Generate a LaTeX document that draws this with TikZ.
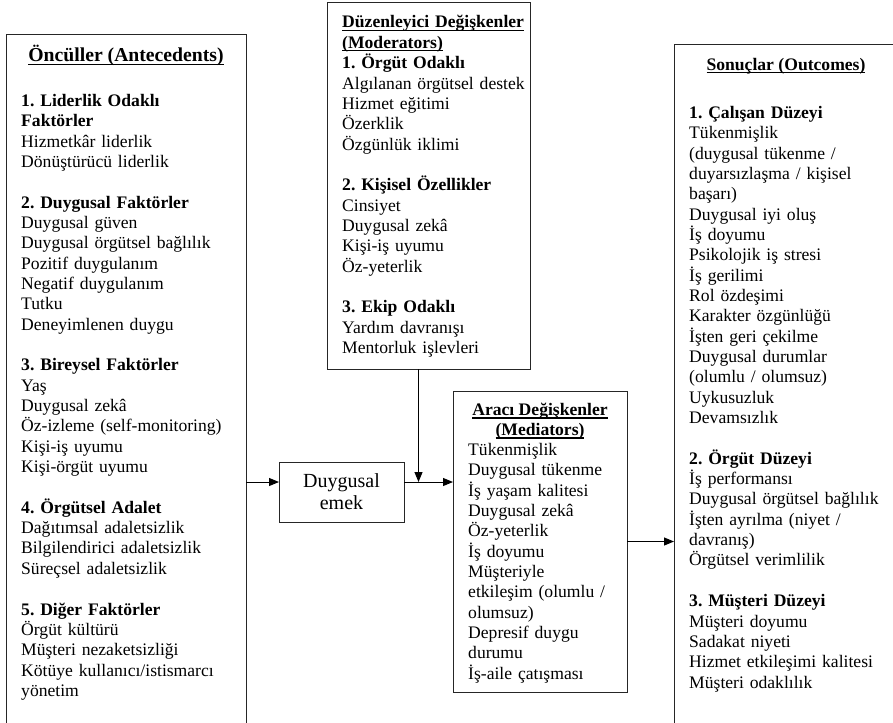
\documentclass[tikz,border=0pt]{standalone}
\usepackage{fontspec}
\setmainfont{Liberation Serif}
\usetikzlibrary{arrows.meta}

\newsavebox{\headbox}
\newcommand{\ulbold}[1]{\leavevmode\sbox{\headbox}{\textbf{#1}}%
    \rlap{\rule[-3pt]{\wd\headbox}{1.1pt}}\usebox{\headbox}}
\newcommand{\skipline}{20.34pt}
\frenchspacing

\begin{document}
\begin{tikzpicture}[x=1pt, y=-1pt,
            frame/.style={draw=black!85, line width=1pt, anchor=north west,
                inner sep=0pt, outer sep=0pt},
            heading/.style={anchor=base, inner sep=0pt,
                font=\fontsize{17.6}{20.34}\selectfont},
            entries/.style={anchor=base west, inner sep=0pt, text width=#1,
                align=left, font=\fontsize{17.6}{20.34}\selectfont},
            entries/.default=230pt,
            flow/.style={line width=1pt, -{Triangle[length=10pt,width=8pt]}}
        ]
        \useasboundingbox (0,0) rectangle (893,722);
        \clip (0,0) rectangle (893,722);

        % frames
        \node[frame, minimum width=240pt, minimum height=760pt] (ante) at (6,35) {};
        \node[frame, minimum width=203pt, minimum height=366pt] (mod) at (327,3) {};
        \node[frame, minimum width=125pt, minimum height=60pt, align=center,
            font=\fontsize{20}{22}\selectfont] (emek) at (279,462) {Duygusal\\emek};
        \node[frame, minimum width=174pt, minimum height=301pt] (med) at (453,391) {};
        \node[frame, minimum width=224pt, minimum height=760pt] (out) at (674,45) {};

        % antecedents
        \node[heading, font=\fontsize{19.7}{22}\selectfont] (ante-title) at (126,62)
            {\ulbold{Öncüller (Antecedents)}};
        \node[entries] (ante-list) at (21,106.5) {%
            \textbf{1. Liderlik Odaklı}\\
            \textbf{Faktörler}\\
            Hizmetkâr liderlik\\
            Dönüştürücü liderlik\\[\skipline]
            \textbf{2. Duygusal Faktörler}\\
            Duygusal güven\\
            Duygusal örgütsel bağlılık\\
            Pozitif duygulanım\\
            Negatif duygulanım\\
            Tutku\\
            Deneyimlenen duygu\\[\skipline]
            \textbf{3. Bireysel Faktörler}\\
            Yaş\\
            Duygusal zekâ\\
            Öz-izleme (self-monitoring)\\
            Kişi-iş uyumu\\
            Kişi-örgüt uyumu\\[\skipline]
            \textbf{4. Örgütsel Adalet}\\
            Dağıtımsal adaletsizlik\\
            Bilgilendirici adaletsizlik\\
            Süreçsel adaletsizlik\\[\skipline]
            \textbf{5. Diğer Faktörler}\\
            Örgüt kültürü\\
            Müşteri nezaketsizliği\\
            Kötüye kullanıcı/istismarcı\\
            yönetim};

        % moderators
        \node[entries] (mod-list) at (342,28) {%
            \ulbold{Düzenleyici Değişkenler}\\
            \ulbold{(Moderators)}\\
            \textbf{1. Örgüt Odaklı}\\
            Algılanan örgütsel destek\\
            Hizmet eğitimi\\
            Özerklik\\
            Özgünlük iklimi\\[\skipline]
            \textbf{2. Kişisel Özellikler}\\
            Cinsiyet\\
            Duygusal zekâ\\
            Kişi-iş uyumu\\
            Öz-yeterlik\\[\skipline]
            \textbf{3. Ekip Odaklı}\\
            Yardım davranışı\\
            Mentorluk işlevleri};

        % mediators
        \node[heading] (med-title) at (540,415.5) {\ulbold{Aracı Değişkenler}};
        \node[heading] (med-sub) at (540,435.5) {\ulbold{(Mediators)}};
        \node[entries] (med-list) at (468,455.5) {%
            Tükenmişlik\\
            Duygusal tükenme\\
            İş yaşam kalitesi\\
            Duygusal zekâ\\
            Öz-yeterlik\\
            İş doyumu\\
            Müşteriyle\\
            etkileşim (olumlu /\\
            olumsuz)\\
            Depresif duygu\\
            durumu\\
            İş-aile çatışması};

        % outcomes
        \node[heading] (out-title) at (786,70.5) {\ulbold{Sonuçlar (Outcomes)}};
        \node[entries] (out-list) at (689,118.5) {%
            \textbf{1. Çalışan Düzeyi}\\
            Tükenmişlik\\
            (duygusal tükenme /\\
            duyarsızlaşma / kişisel\\
            başarı)\\
            Duygusal iyi oluş\\
            İş doyumu\\
            Psikolojik iş stresi\\
            İş gerilimi\\
            Rol özdeşimi\\
            Karakter özgünlüğü\\
            İşten geri çekilme\\
            Duygusal durumlar\\
            (olumlu / olumsuz)\\
            Uykusuzluk\\
            Devamsızlık\\[\skipline]
            \textbf{2. Örgüt Düzeyi}\\
            İş performansı\\
            Duygusal örgütsel bağlılık\\
            İşten ayrılma (niyet /\\
            davranış)\\
            Örgütsel verimlilik\\[\skipline]
            \textbf{3. Müşteri Düzeyi}\\
            Müşteri doyumu\\
            Sadakat niyeti\\
            Hizmet etkileşimi kalitesi\\
            Müşteri odaklılık};

        % connectors
        \coordinate (emek-in) at ([yshift=10pt]emek.west);
        \coordinate (emek-out) at ([yshift=10pt]emek.east);
        \coordinate (mod-foot) at ([xshift=-10pt]mod.south);
        \draw[flow] (ante.east |- emek-in) -- (emek-in);
        \draw[flow] (emek-out) -- (med.west |- emek-out);
        \draw[flow] (mod-foot) -- (mod-foot |- emek-out);
        \draw[flow] (med.east) -- (out.west |- med.east);
    \end{tikzpicture}
\end{document}
